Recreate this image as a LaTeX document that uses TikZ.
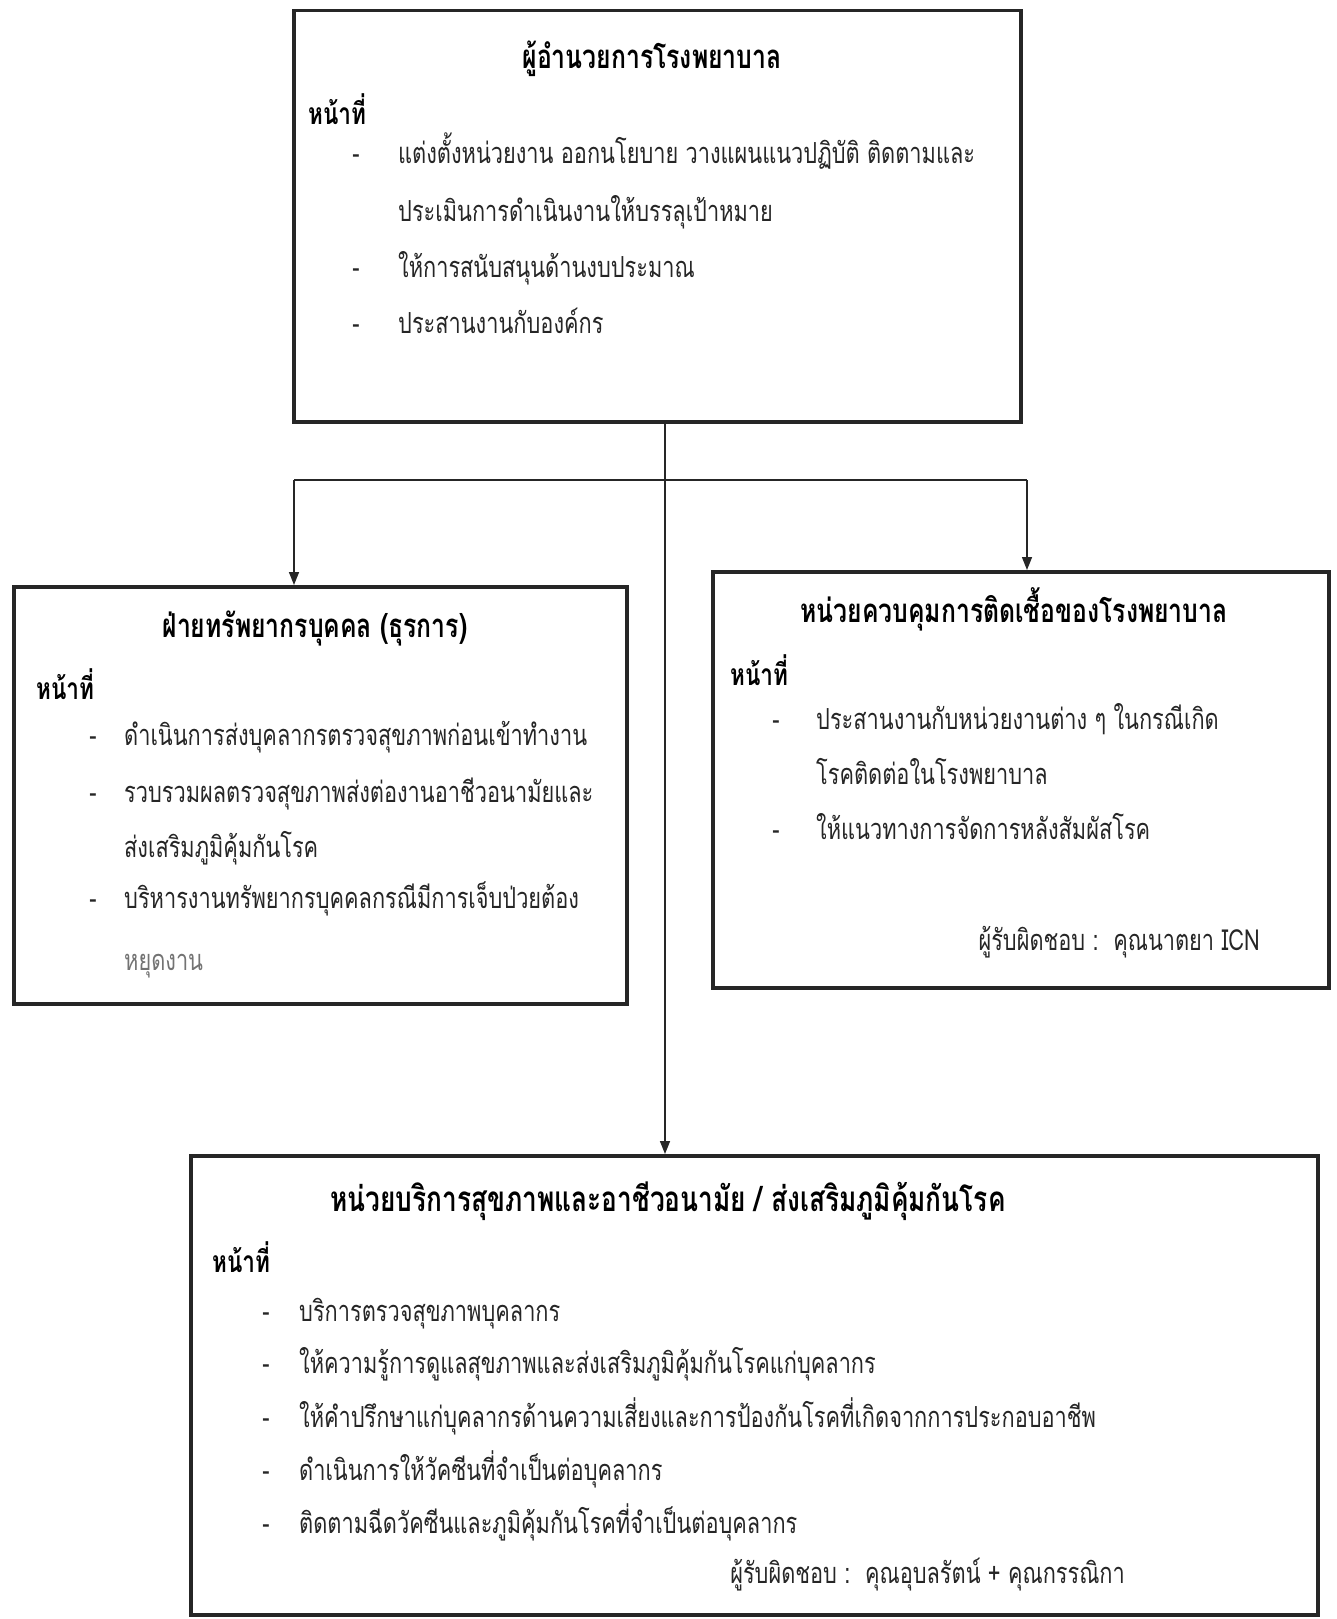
\documentclass[tikz,border=0pt]{standalone}
\usepackage{fontspec}
\usetikzlibrary{arrows.meta}
\newfontfamily\thai[Script=Thai,FakeStretch=0.75]{Loma}
\tikzset{
  box/.style={draw=black!85, line width=3.5pt, inner sep=0pt, anchor=north west},
  ttl/.style={font=\thai\bfseries\fontsize{33}{38}\selectfont, anchor=base, inner sep=0pt},
  hd/.style={font=\thai\bfseries\fontsize{30}{34}\selectfont, anchor=base west, inner sep=0pt},
  txt/.style={font=\thai\fontsize{29}{34}\selectfont, anchor=base west, inner sep=0pt, text=black!85},
  bul/.style={font=\thai\fontsize{29}{34}\selectfont, anchor=base, inner sep=0pt, text=black!85},
  conn/.style={line width=1.5pt, draw=black!85},
  arr/.style={conn, -{Triangle[length=13pt,width=10pt]}},
}
\begin{document}
\begin{tikzpicture}[x=1pt,y=-1pt]
\useasboundingbox[fill=white] (0,0) rectangle (1336,1619);
% boxes
\node[box, minimum width=727pt, minimum height=411pt] (dir) at (292,9) {};
\node[box, minimum width=613pt, minimum height=417pt] (hr) at (12,585) {};
\node[box, minimum width=616pt, minimum height=416pt] (ic) at (711,570) {};
\node[box, minimum width=1127pt, minimum height=459pt] (oh) at (189,1154) {};
% connectors
\coordinate (jt) at (665,480);
\coordinate (jl) at (294,480);
\coordinate (jr) at (1027,480);
\draw[conn] (dir.south -| jt) -- (jt);
\draw[conn] (jl) -- (jr);
\draw[arr] (jl) -- (jl |- hr.north);
\draw[arr] (jr) -- (jr |- ic.north);
\draw[arr] (jt) -- (jt |- oh.north);
% director box
\node[ttl] (dirT) at (652,69) {ผู้อำนวยการโรงพยาบาล};
\node[hd] (dirH) at (308,124) {หน้าที่};
\node[bul] (dirB1) at (356,163) {-};
\node[txt] (dirL1) at (398,163) {แต่งตั้งหน่วยงาน ออกนโยบาย วางแผนแนวปฏิบัติ ติดตามและ};
\node[txt] (dirL2) at (398,221) {ประเมินการดำเนินงานให้บรรลุเป้าหมาย};
\node[bul] (dirB2) at (356,277) {-};
\node[txt] (dirL3) at (398,277) {ให้การสนับสนุนด้านงบประมาณ};
\node[bul] (dirB3) at (356,333) {-};
\node[txt] (dirL4) at (398,333) {ประสานงานกับองค์กร};
% HR box
\node[ttl] (hrT) at (315,637) {ฝ่ายทรัพยากรบุคคล (ธุรการ)};
\node[hd] (hrH) at (36,699) {หน้าที่};
\node[bul] (hrB1) at (93,745) {-};
\node[txt] (hrL1) at (124,745) {ดำเนินการส่งบุคลากรตรวจสุขภาพก่อนเข้าทำงาน};
\node[bul] (hrB2) at (93,802) {-};
\node[txt] (hrL2) at (124,802) {รวบรวมผลตรวจสุขภาพส่งต่องานอาชีวอนามัยและ};
\node[txt] (hrL3) at (124,857) {ส่งเสริมภูมิคุ้มกันโรค};
\node[bul] (hrB3) at (93,908) {-};
\node[txt] (hrL4) at (124,908) {บริหารงานทรัพยากรบุคคลกรณีมีการเจ็บป่วยต้อง};
\node[txt, text=black!55] (hrL5) at (124,970) {หยุดงาน};
% IC box
\node[ttl] (icT) at (1014,622) {หน่วยควบคุมการติดเชื้อของโรงพยาบาล};
\node[hd] (icH) at (730,685) {หน้าที่};
\node[bul] (icB1) at (776,729) {-};
\node[txt] (icL1) at (816,729) {ประสานงานกับหน่วยงานต่าง ๆ ในกรณีเกิด};
\node[txt] (icL2) at (816,784) {โรคติดต่อในโรงพยาบาล};
\node[bul] (icB2) at (776,839) {-};
\node[txt] (icL3) at (816,839) {ให้แนวทางการจัดการหลังสัมผัสโรค};
\node[txt, anchor=base east] (icR) at (1260,950) {ผู้รับผิดชอบ :\ \ คุณนาตยา ICN};
% OH box
\node[ttl, font=\thai\bfseries\fontsize{35}{40}\selectfont] (ohT) at (668,1211) {หน่วยบริการสุขภาพและอาชีวอนามัย / ส่งเสริมภูมิคุ้มกันโรค};
\node[hd] (ohH) at (212,1272) {หน้าที่};
\node[bul] (ohB1) at (266,1321) {-};
\node[txt] (ohL1) at (299,1321) {บริการตรวจสุขภาพบุคลากร};
\node[bul] (ohB2) at (266,1373) {-};
\node[txt] (ohL2) at (299,1373) {ให้ความรู้การดูแลสุขภาพและส่งเสริมภูมิคุ้มกันโรคแก่บุคลากร};
\node[bul] (ohB3) at (266,1427) {-};
\node[txt] (ohL3) at (299,1427) {ให้คำปรึกษาแก่บุคลากรด้านความเสี่ยงและการป้องกันโรคที่เกิดจากการประกอบอาชีพ};
\node[bul] (ohB4) at (266,1480) {-};
\node[txt] (ohL4) at (299,1480) {ดำเนินการให้วัคซีนที่จำเป็นต่อบุคลากร};
\node[bul] (ohB5) at (266,1533) {-};
\node[txt] (ohL5) at (299,1533) {ติดตามฉีดวัคซีนและภูมิคุ้มกันโรคที่จำเป็นต่อบุคลากร};
\node[txt, anchor=base east] (ohR) at (1125,1583) {ผู้รับผิดชอบ :\ \ คุณอุบลรัตน์ + คุณกรรณิกา};
\end{tikzpicture}
\end{document}
